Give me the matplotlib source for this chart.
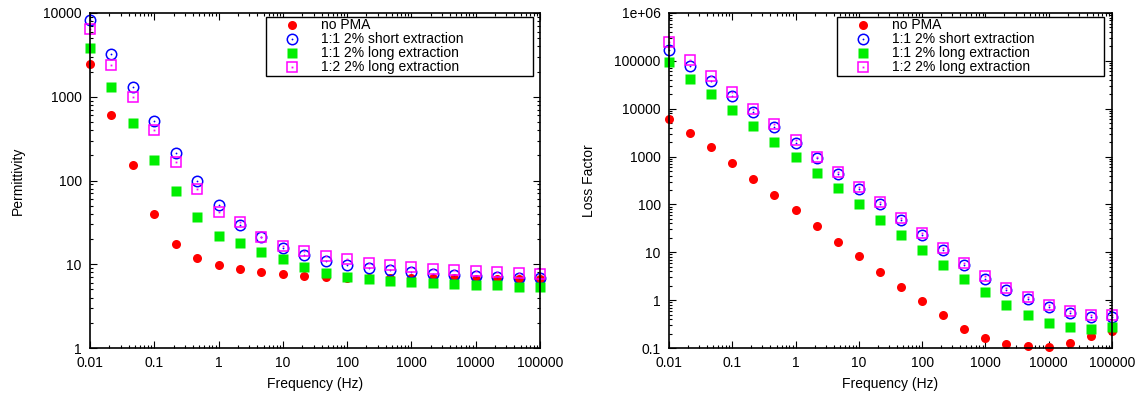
import matplotlib
matplotlib.use('Agg')
import matplotlib.pyplot as plt
from matplotlib.ticker import LogLocator, NullFormatter

plt.rcParams['font.family'] = ['Liberation Sans', 'DejaVu Sans']
plt.rcParams['font.size'] = 10

freq = [0.01, 0.0215, 0.0464, 0.1, 0.215, 0.464, 1, 2.15, 4.64, 10, 21.5, 46.4,
        100, 215, 464, 1000, 2150, 4640, 10000, 21500, 46400, 100000]

labels = ["no PMA", "1:1 2% short extraction", "1:1 2% long extraction",
          "1:2 2% long extraction"]

# permittivity
perm_nopma = [2450, 600, 155, 40, 17.5, 11.8, 9.9, 8.7, 8.1, 7.6, 7.3, 7.0,
              6.9, 6.9, 6.9, 6.9, 6.9, 6.8, 6.7, 6.7, 6.6, 6.6]
perm_short = [8300, 3200, 1300, 520, 215, 100, 51, 29.5, 21, 15.8, 12.8, 10.8,
              9.8, 9.0, 8.5, 8.0, 7.7, 7.5, 7.3, 7.1, 6.9, 6.8]
perm_long = [3800, 1300, 490, 178, 74, 37, 22, 18, 14, 11.5, 9.4, 7.9,
             7.0, 6.6, 6.3, 6.1, 6.0, 5.8, 5.7, 5.6, 5.4, 5.4]
perm_12 = [6400, 2400, 1000, 400, 168, 80, 42, 32, 21, 16.5, 14.2, 12.6,
           11.4, 10.4, 9.8, 9.2, 8.8, 8.5, 8.2, 8.0, 7.8, 7.6]

# loss factor
loss_nopma = [6000, 3100, 1550, 750, 340, 160, 75, 35, 16.5, 8.2, 3.9, 1.9,
              0.95, 0.48, 0.25, 0.16, 0.12, 0.11, 0.105, 0.13, 0.18, 0.23]
loss_short = [170000, 78000, 38000, 18500, 8500, 4100, 1900, 930, 430, 210, 100, 47,
              23, 11, 5.4, 2.8, 1.6, 1.05, 0.72, 0.55, 0.45, 0.45]
loss_long = [95000, 42000, 20000, 9500, 4400, 2000, 1000, 460, 220, 103, 48, 23,
             11.3, 5.5, 2.8, 1.5, 0.8, 0.5, 0.34, 0.27, 0.25, 0.27]
loss_12 = [245000, 105000, 48000, 22000, 10000, 4700, 2200, 1000, 470, 230, 110, 52,
           25, 12, 6.0, 3.2, 1.8, 1.15, 0.78, 0.6, 0.5, 0.5]

xticks = [0.01, 0.1, 1, 10, 100, 1000, 10000, 100000]
xticklabels = ["0.01", "0.1", "1", "10", "100", "1000", "10000", "100000"]
perm_ticks = [1, 10, 100, 1000, 10000]
perm_ticklabels = ["1", "10", "100", "1000", "10000"]
loss_ticks = [0.1, 1, 10, 100, 1000, 10000, 100000, 1e6]
loss_ticklabels = ["0.1", "1", "10", "100", "1000", "10000", "100000", "1e+06"]

fig = plt.figure(figsize=(11.41, 3.96), dpi=100)
ax1 = fig.add_axes([90 / 1141, 1 - 348 / 396, 450 / 1141, 335 / 396])
ax2 = fig.add_axes([669 / 1141, 1 - 348 / 396, 443 / 1141, 335 / 396])


def draw(ax, ys, yticks, yticklabels, ylim, ylabel, legbox):
    red, blue, green, mag = ys
    h1, = ax.plot(freq, red, 'o', color='#ff0000', ms=6.5, mec='none', clip_on=False)
    h2, = ax.plot(freq, blue, 'o', mfc='none', mec='#0000ff', mew=1.1, ms=7.5, clip_on=False)
    d2, = ax.plot(freq, blue, 'o', color='#0000ff', ms=1.3, mec='none', clip_on=False)
    h3, = ax.plot(freq, green, 's', color='#00ee00', ms=6.5, mec='none', clip_on=False)
    h4, = ax.plot(freq, mag, 's', mfc='none', mec='#ff00ff', mew=1.1, ms=7, clip_on=False)
    d4, = ax.plot(freq, mag, 's', color='#ff00ff', ms=1.3, mec='none', clip_on=False)

    ax.set_xscale('log')
    ax.set_yscale('log')
    ax.set_xlim(0.01, 100000)
    ax.set_ylim(*ylim)
    ax.set_xticks(xticks)
    ax.set_xticklabels(xticklabels)
    ax.set_yticks(yticks)
    ax.set_yticklabels(yticklabels)
    ax.xaxis.set_minor_locator(LogLocator(base=10, subs=range(2, 10), numticks=20))
    ax.yaxis.set_minor_locator(LogLocator(base=10, subs=range(2, 10), numticks=20))
    ax.xaxis.set_minor_formatter(NullFormatter())
    ax.yaxis.set_minor_formatter(NullFormatter())
    ax.tick_params(which='both', direction='in', top=True, right=True, width=0.8)
    ax.tick_params(which='major', length=5, pad=6)
    ax.tick_params(which='minor', length=2.5)
    for s in ax.spines.values():
        s.set_linewidth(1.2)
    ax.set_xlabel("Frequency (Hz)", labelpad=5)
    ax.set_ylabel(ylabel, labelpad=13)

    leg = ax.legend([h1, (h2, d2), h3, (h4, d4)], labels, loc='upper left',
                    bbox_to_anchor=legbox, mode='expand', frameon=True, fancybox=False,
                    edgecolor='black', framealpha=1, borderpad=0.1,
                    labelspacing=0.0, handletextpad=0.35, handlelength=3.5,
                    borderaxespad=0)
    leg.get_frame().set_linewidth(1.0)


draw(ax1, [perm_nopma, perm_short, perm_long, perm_12], perm_ticks, perm_ticklabels,
     (1, 10000), "Permittivity", (0.391, 0.815, 0.593, 0.173))
draw(ax2, [loss_nopma, loss_short, loss_long, loss_12], loss_ticks, loss_ticklabels,
     (0.1, 1e6), "Loss Factor", (0.379, 0.815, 0.603, 0.173))

fig.savefig('out.png', dpi=100)
